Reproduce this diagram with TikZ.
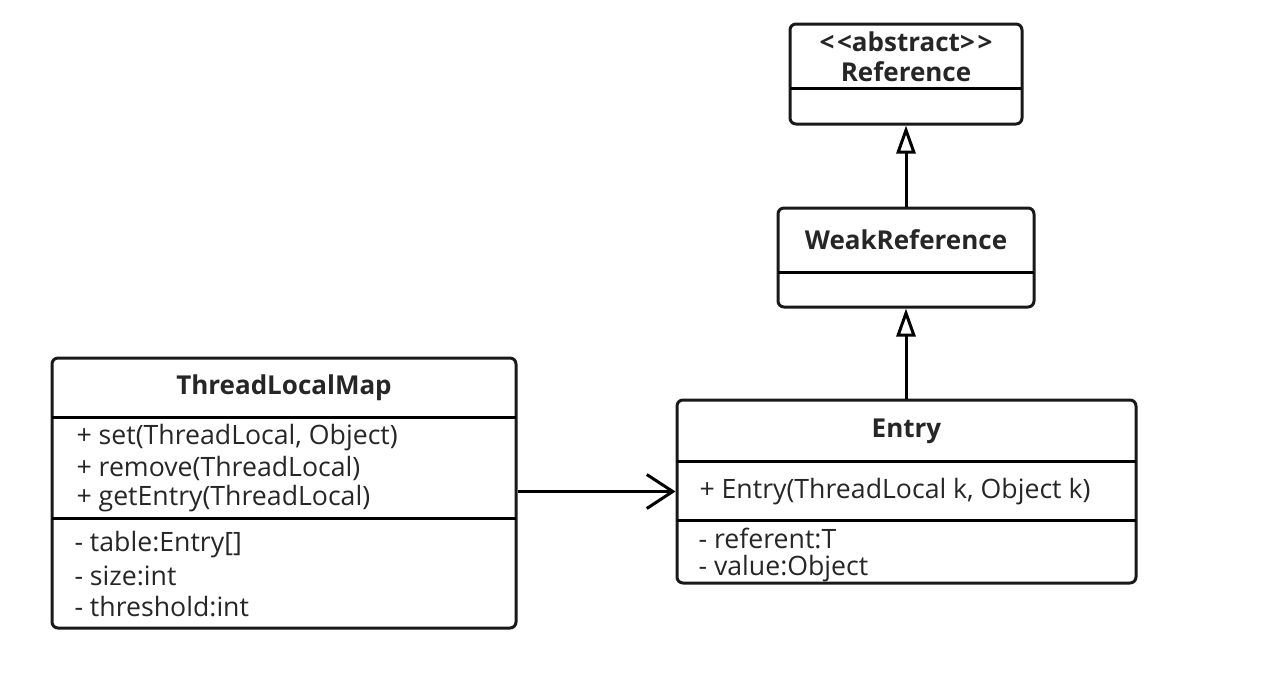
\documentclass[tikz,border=0pt]{standalone}
\usepackage{fontspec}
\setmainfont{Open Sans}
\usetikzlibrary{arrows.meta}

\tikzset{every picture/.style={line width=2.25pt}}
\tikzset{
	classbox/.style={draw=black!90, rounded corners=4.5pt, inner sep=0pt},
	classname/.style={font=\fontsize{19.5}{23}\selectfont\bfseries, text=black!85},
	member/.style={font=\fontsize{20}{24}\selectfont, anchor=west, inner sep=0pt, text=black!85},
	inherit/.style={-{Triangle[open, fill=white, length=21pt, width=14.25pt]}},
	assoc/.style={-{Straight Barb[length=19.5pt, width=25.5pt]}}
}

\begin{document}
\begin{tikzpicture}[x=0.75pt,y=0.75pt,yscale=-1,xscale=1]
	\useasboundingbox (0,0) rectangle (1278,678);

	%Shape: Class Reference
	\node [classbox, minimum width=174pt, minimum height=75pt] (ref) at (906,74) {};
	\draw    (790,88) -- (1022,88) ;
	% Text Node
	\draw (906,42) node [classname] (refstereo) {<\kern2pt<abstract>\kern2pt>};
	\draw (906,72) node [classname] (refname) {Reference};

	%Shape: Class WeakReference
	\node [classbox, minimum width=192pt, minimum height=74.25pt] (weak) at (906,257.5) {};
	\draw    (778,272) -- (1034,272) ;
	% Text Node
	\draw (906,240) node [classname] (weakname) {WeakReference};

	%Shape: Class Entry
	\node [classbox, minimum width=344.25pt, minimum height=137.25pt] (entry) at (906.5,491.5) {};
	\draw    (677,461) -- (1136,461) ;
	\draw    (677,520) -- (1136,520) ;
	% Text Node
	\draw (906.5,431) node [classname] (entryname) {Entry};
	\draw (698,492) node [member] (entryctor) {+ Entry(ThreadLocal k, Object k)};
	\draw (697,538) node [member] (entryref) {- referent:T};
	\draw (697,569) node [member] (entryval) {- value:Object};

	%Shape: Class ThreadLocalMap
	\node [classbox, minimum width=348pt, minimum height=202.5pt] (tlm) at (284,493) {};
	\draw    (52,417) -- (516,417) ;
	\draw    (52,518) -- (516,518) ;
	% Text Node
	\draw (284,388) node [classname] (tlmname) {ThreadLocalMap};
	\draw (75,438) node [member] (tlmset) {+ set(ThreadLocal, Object)};
	\draw (75,468) node [member] (tlmremove) {+ remove(ThreadLocal)};
	\draw (75,499) node [member] (tlmget) {+ getEntry(ThreadLocal)};
	\draw (73,545) node [member] (tlmtable) {- table:Entry[]};
	\draw (73,576) node [member] (tlmsize) {- size:int};
	\draw (73,607) node [member] (tlmthres) {- threshold:int};

	%Straight Lines: generalisations
	\draw [inherit]   (weak.north) -- (ref.south) ;
	\draw [inherit]   (entry.north -| weak.south) -- (weak.south) ;
	%Straight Lines: association
	\draw [assoc]   (tlm.east |- entry.west) -- (entry.west) ;

\end{tikzpicture}
\end{document}
